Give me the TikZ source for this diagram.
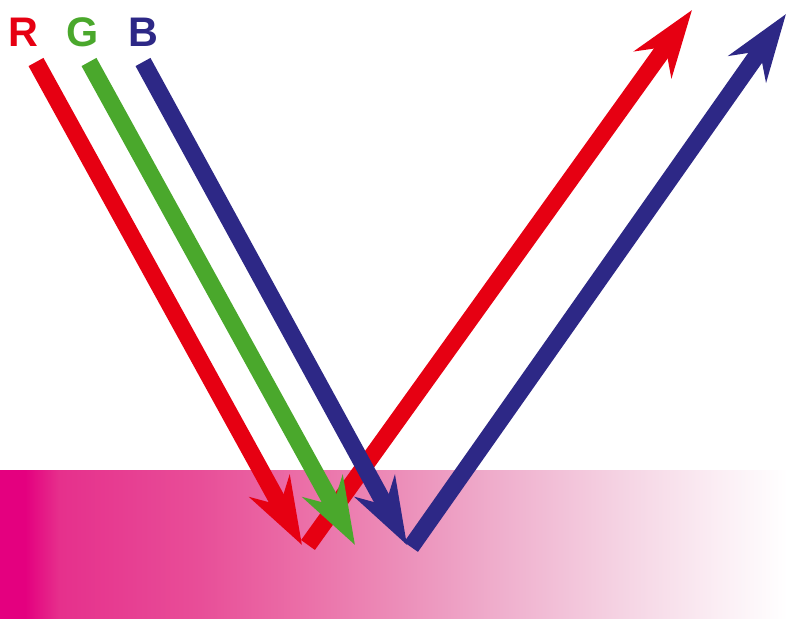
\documentclass[tikz,border=0pt]{standalone}
\usepackage{fontspec}
\setmainfont{Liberation Sans}
\usetikzlibrary{arrows.meta}
\definecolor{rayred}{HTML}{E60012}
\definecolor{raygreen}{HTML}{4AA82C}
\definecolor{rayblue}{HTML}{2D2886}
\definecolor{surface}{HTML}{E4007F}
\pgfdeclarehorizontalshading{surfacefade}{100bp}{%
  color(0bp)=(surface); color(26.6bp)=(surface);
  color(28.8bp)=(rgb,255:red,230;green,48;blue,140);
  color(37.7bp)=(rgb,255:red,232;green,78;blue,152);
  color(44.1bp)=(rgb,255:red,235;green,110;blue,167);
  color(50.4bp)=(rgb,255:red,236;green,142;blue,185);
  color(56.8bp)=(rgb,255:red,239;green,175;blue,205);
  color(64.4bp)=(rgb,255:red,245;green,211;blue,227);
  color(70.7bp)=(rgb,255:red,251;green,238;blue,244);
  color(75bp)=(white); color(100bp)=(white)}
\tikzset{
  ray/.style={line width=12.75pt,line cap=butt,-{Stealth[length=50pt,width=34pt,inset=16pt]}},
  lbl/.style={font=\fontsize{31}{31}\selectfont\bfseries,anchor=base,inner sep=0pt},
}

\begin{document}
\begin{tikzpicture}[x=0.75pt,y=0.75pt]
  \useasboundingbox (0,0) rectangle (787,618);
  \shade[shading=surfacefade] (0,0) rectangle (787,148);
  \node[lbl,text=rayred] (lr) at (23,571) {R};
  \node[lbl,text=raygreen] (lg) at (83,571) {G};
  \node[lbl,text=rayblue] (lb) at (143,571) {B};
  \coordinate (rs) at (36,556);
  \coordinate (gs) at (89,556);
  \coordinate (bs) at (143,556);
  \coordinate (rhit) at (302,73);
  \coordinate (ghit) at (355,73);
  \coordinate (bhit) at (407,73);
  \coordinate (rapex) at (308,73);
  \coordinate (rend) at (692,608);
  \coordinate (bapex) at (411,71);
  \coordinate (bend) at (786,604);
  \draw[ray,rayred] (rapex)--(rend);
  \foreach \a/\b/\c in {rs/rhit/rayred,gs/ghit/raygreen,bs/bhit/rayblue}
    \draw[ray,\c] (\a)--(\b);
  \draw[ray,rayblue] (bapex)--(bend);
\end{tikzpicture}
\end{document}
